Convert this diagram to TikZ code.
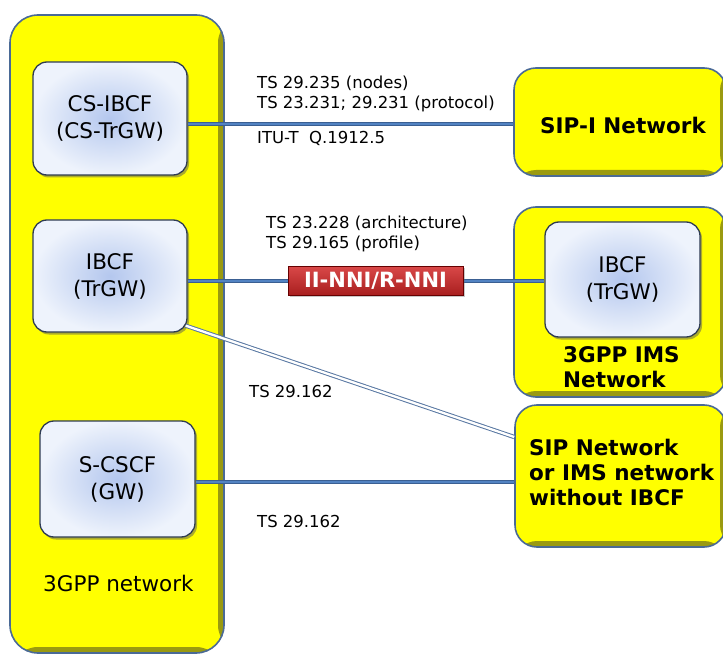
\documentclass[tikz,border=0pt]{standalone}
\usepackage{fontspec}
\setmainfont{DejaVu Sans}
\usetikzlibrary{shadows,calc}
\definecolor{ybox}{HTML}{FFFF00}
\definecolor{yband}{HTML}{9A9A10}
\definecolor{yline}{HTML}{4A6A96}
\definecolor{nodein}{HTML}{B4C7EE}
\definecolor{nodeout}{HTML}{EEF3FC}
\definecolor{nodeline}{HTML}{2E3B52}
\definecolor{linedark}{HTML}{3A5F92}
\definecolor{linelight}{HTML}{5283C2}
\definecolor{redtop}{HTML}{D94848}
\definecolor{redbot}{HTML}{A81E1E}
\begin{document}
\begin{tikzpicture}[x=1pt,y=-1pt,
  netbox/.style={draw=yline, line width=1.6pt, fill=ybox, rounded corners=#1, inner sep=0pt,
    path picture={
      \fill[yband] ([xshift=-6pt]path picture bounding box.north east) rectangle (path picture bounding box.south east);
      \fill[yband] ([yshift=6pt]path picture bounding box.south west) rectangle (path picture bounding box.south east);}},
  fnode/.style={rounded corners=14pt, draw=nodeline, line width=1.3pt, inner color=nodein, outer color=nodeout,
    drop shadow={shadow xshift=2pt, shadow yshift=-2.5pt, opacity=.5, fill=black!65},
    align=center, font=\fontsize{21.5}{27}\selectfont, inner sep=0pt},
  conn/.style={draw=linedark, line width=4pt, postaction={draw=linelight, line width=2pt}},
  dconn/.style={draw=linedark!85, line width=1pt, double=white, double distance=2.3pt},
  redlab/.style={draw=red!40!black, line width=0.6pt, top color=redtop, bottom color=redbot, text=white,
    font=\bfseries\fontsize{21}{22}\selectfont, minimum width=175pt, minimum height=29pt, inner sep=0pt,
    drop shadow={shadow xshift=1.5pt, shadow yshift=-1.5pt, opacity=.35, fill=black!60}},
  lab/.style={anchor=base west, inner sep=0pt, font=\fontsize{16.5}{20}\selectfont},
  blab/.style={inner sep=0pt, font=\bfseries\fontsize{21.5}{25}\selectfont, align=left}
]
\useasboundingbox (0,0) rectangle (723,655);
\fill[white] (0,0) rectangle (723,655);
\clip (0,0) rectangle (723,655);

% outer network boxes
\node[netbox=28pt, minimum width=214pt, minimum height=638pt] (net3gpp) at (117,334) {};
\node[netbox=22pt, minimum width=212pt, minimum height=108pt] (sipi) at (620,122) {};
\node[netbox=22pt, minimum width=212pt, minimum height=190pt] (ims) at (620,302) {};
\node[netbox=22pt, minimum width=211pt, minimum height=142pt] (sipnet) at (620.5,476) {};

% functional nodes
\node[fnode, minimum width=154pt, minimum height=113pt] (csibcf) at (110,118.5) {CS-IBCF\\(CS-TrGW)};
\node[fnode, minimum width=154pt, minimum height=112pt] (ibcf) at (110,276) {IBCF\\(TrGW)};
\node[fnode, minimum width=155pt, minimum height=116pt] (scscf) at (117.5,479) {S-CSCF\\(GW)};
\node[fnode, minimum width=155pt, minimum height=115pt] (ibcf2) at (622.5,279.5) {IBCF\\(TrGW)};

% box labels
\node[inner sep=0pt, anchor=base west, font=\fontsize{21.5}{25}\selectfont] (lbl3gpp) at (43,591) {3GPP network};
\node[blab, anchor=base west] (lblsipi) at (540,134) {SIP-I Network};
\node[blab, anchor=west] (lblims) at (563,367.5) {3GPP IMS\\Network};
\node[blab, anchor=west] (lblsip) at (529,472) {SIP Network\\or IMS network\\without IBCF};

% connectors
\draw[conn] ([yshift=-5.5pt]csibcf.east) -- ([yshift=-5.5pt]csibcf.east -| sipi.west);
\draw[conn] ([yshift=-5pt]ibcf.east) -- ([yshift=-5pt]ibcf.east -| ibcf2.west);
\draw[dconn] ([shift={(-2pt,7pt)}]ibcf.south east) -- ([yshift=39pt]sipnet.west);
\draw[conn] ([yshift=-3pt]scscf.east) -- ([yshift=-3pt]scscf.east -| sipnet.west);

\node[redlab] (nni) at (375.5,281) {II-NNI/R-NNI};

% connector labels
\node[lab] (t1) at (257,89) {TS 29.235 (nodes)};
\node[lab] (t2) at (257,109) {TS 23.231; 29.231 (protocol)};
\node[lab] (t3) at (257,144) {ITU-T\ \ Q.1912.5};
\node[lab] (t4) at (266,229) {TS 23.228 (architecture)};
\node[lab] (t5) at (266,248) {TS 29.165 (profile)};
\node[lab] (t6) at (249,397) {TS 29.162};
\node[lab] (t7) at (257,527) {TS 29.162};
\end{tikzpicture}
\end{document}
